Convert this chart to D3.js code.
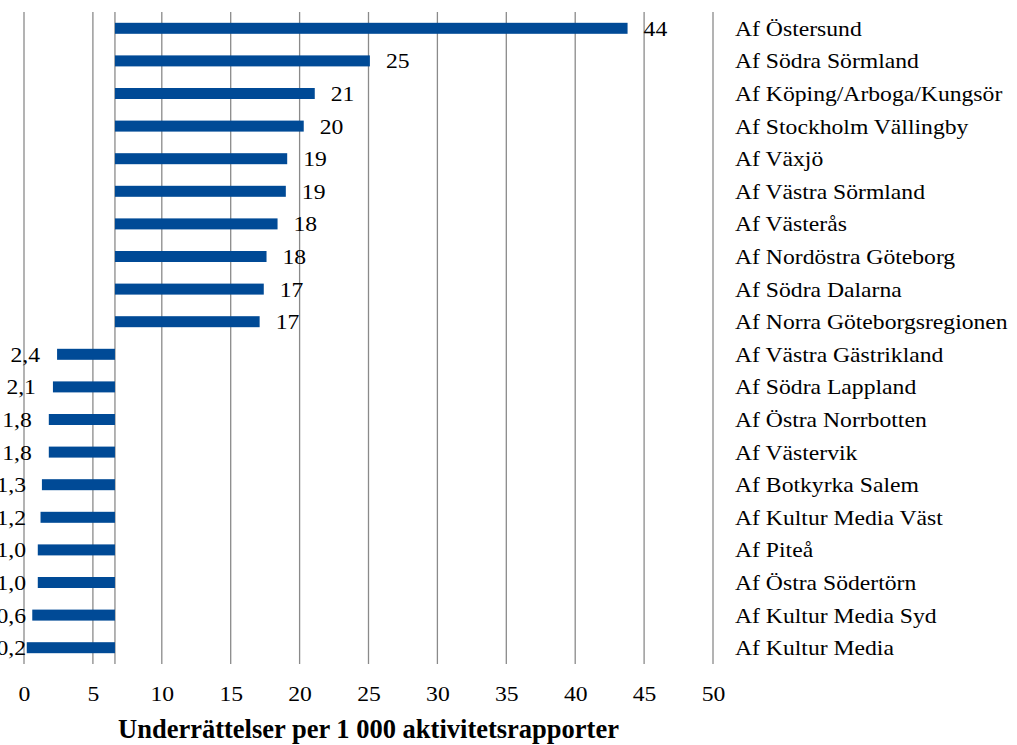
<!DOCTYPE html>
<html>
<head>
<meta charset="utf-8">
<script src="https://cdn.jsdelivr.net/npm/d3@7"></script>
<style>
  html, body { margin: 0; padding: 0; background: #fff; }
  svg { display: block; }
  text { font-family: "Liberation Serif", "Times New Roman", serif; fill: #000; }
</style>
</head>
<body>
<svg id="chart" width="1017" height="745"></svg>
<script>
// ---- data ----
const categories = [
  "Af Östersund", "Af Södra Sörmland", "Af Köping/Arboga/Kungsör", "Af Stockholm Vällingby",
  "Af Växjö", "Af Västra Sörmland", "Af Västerås", "Af Nordöstra Göteborg",
  "Af Södra Dalarna", "Af Norra Göteborgsregionen", "Af Västra Gästrikland", "Af Södra Lappland",
  "Af Östra Norrbotten", "Af Västervik", "Af Botkyrka Salem", "Af Kultur Media Väst",
  "Af Piteå", "Af Östra Södertörn", "Af Kultur Media Syd", "Af Kultur Media"
];
const values = [43.8, 25.1, 21.1, 20.3, 19.1, 19.0, 18.4, 17.6, 17.4, 17.1,
                2.4, 2.1, 1.8, 1.8, 1.3, 1.2, 1.0, 1.0, 0.6, 0.2];
const xTicks = [0, 5, 10, 15, 20, 25, 30, 35, 40, 45, 50];
const axisCrossing = 6.6;
const xTitle = "Underrättelser per 1 000 aktivitetsrapporter";

// ---- layout ----
const svg = d3.select("#chart");
const mLeft = 24, mRight = 713, mTop = 12, mBottom = 664;
const sx = 1.1; // horizontal stretch of the text in the reference
const x = d3.scaleLinear().domain([0, 50]).range([mLeft, mRight]);
const y = d3.scaleBand().domain(categories).range([mTop, mBottom]).paddingInner(0.66).paddingOuter(0.33);

const fmtBig = v => d3.format(".0f")(v);
const fmtSmall = v => d3.format(".1f")(v).replace(".", ",");

// gridlines
svg.append("g").selectAll("line").data(xTicks).join("line")
  .attr("x1", d => x(d)).attr("x2", d => x(d))
  .attr("y1", mTop).attr("y2", mBottom)
  .attr("stroke", "#8a8a8a").attr("stroke-width", 1.3);

// category axis line at crossing
svg.append("line")
  .attr("x1", x(axisCrossing)).attr("x2", x(axisCrossing))
  .attr("y1", mTop).attr("y2", mBottom)
  .attr("stroke", "#8a8a8a").attr("stroke-width", 1.3);

// bars
const bw = 11;
const cy = i => y(categories[i]) + y.bandwidth() / 2;
svg.append("g").selectAll("rect").data(values).join("rect")
  .attr("x", d => Math.min(x(d), x(axisCrossing)))
  .attr("width", d => Math.abs(x(d) - x(axisCrossing)))
  .attr("y", (d, i) => cy(i) - bw / 2)
  .attr("height", bw)
  .attr("fill", "#004A96");

// value labels
svg.append("g").selectAll("text").data(values).join("text")
  .attr("transform", (d, i) => {
    const px = d >= axisCrossing ? x(d) + 16 : Math.max(x(d) - 17, 26);
    return `translate(${px},${cy(i)}) scale(${sx},1)`;
  })
  .attr("dy", "0.35em")
  .attr("text-anchor", d => d >= axisCrossing ? "start" : "end")
  .attr("font-size", 21.5)
  .text(d => d >= axisCrossing ? fmtBig(d) : fmtSmall(d));

// category labels
svg.append("g").selectAll("text").data(categories).join("text")
  .attr("transform", (d, i) => `translate(735,${cy(i)}) scale(${sx},1)`)
  .attr("dy", "0.35em")
  .attr("font-size", 21.5)
  .text(d => d);

// x axis tick labels
const xAxis = d3.axisBottom(x).tickValues(xTicks).tickSize(0).tickPadding(0).tickFormat(d3.format("d"));
const gx = svg.append("g").attr("transform", `translate(0, ${mBottom + 29})`).call(xAxis);
gx.select(".domain").remove();
gx.selectAll("text")
  .attr("font-size", 21.5)
  .attr("font-family", null)
  .attr("fill", "#000")
  .attr("dy", "0.35em")
  .attr("transform", `scale(${sx},1)`);

// x title
svg.append("text")
  .attr("x", 368.5)
  .attr("y", 738)
  .attr("text-anchor", "middle")
  .attr("font-size", 26.5)
  .attr("font-weight", "bold")
  .text(xTitle);
</script>
</body>
</html>
